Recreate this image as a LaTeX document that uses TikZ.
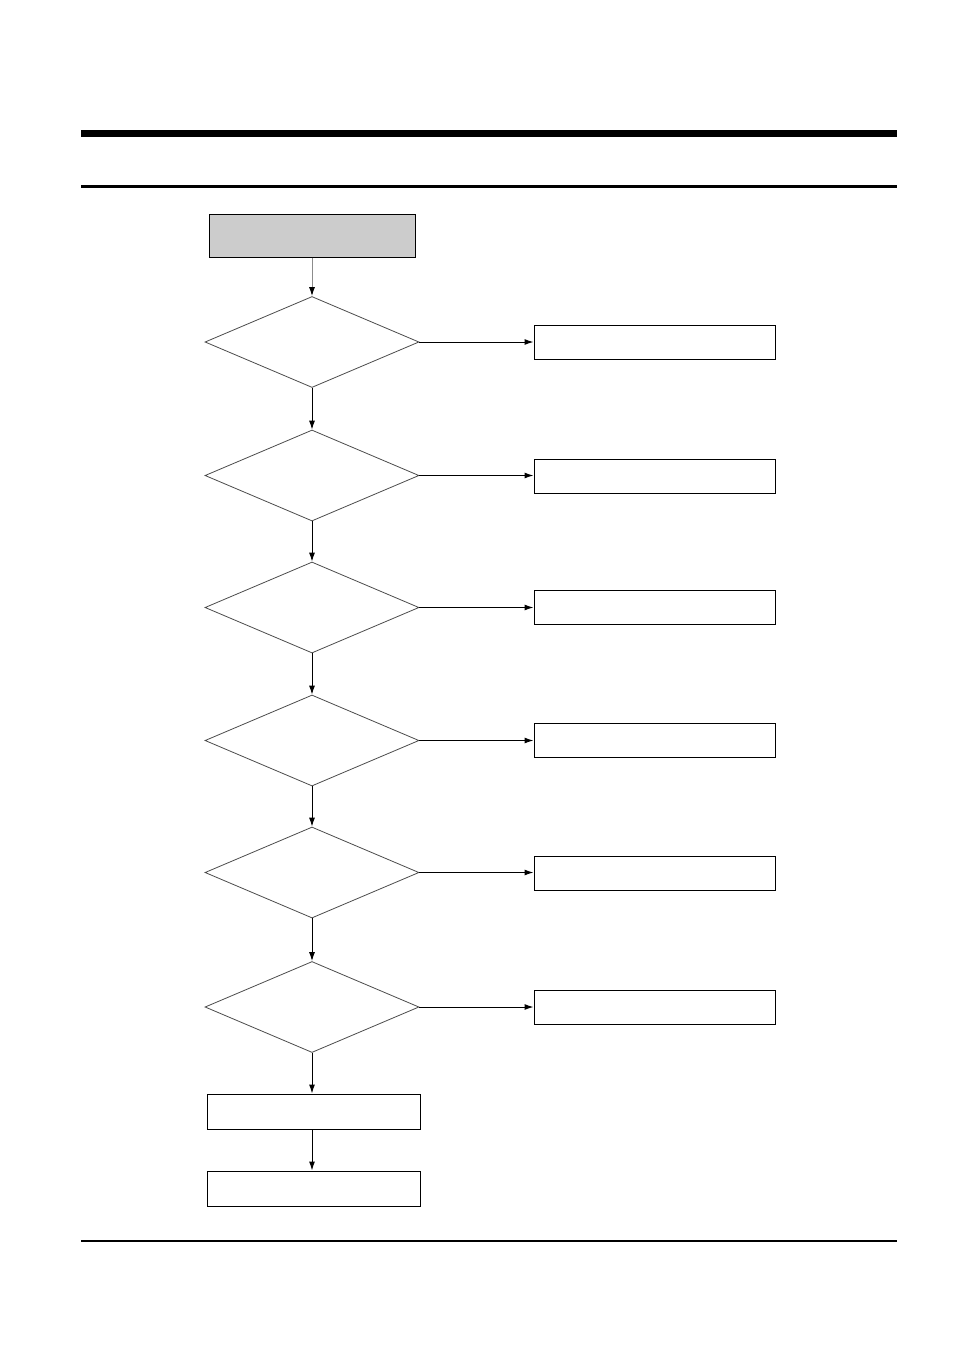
\documentclass[tikz,border=0pt]{standalone}
\usetikzlibrary{shapes.geometric,arrows.meta}
\begin{document}
\begin{tikzpicture}[x=1pt,y=-1pt,
  dec/.style={diamond,draw=black!70,line width=0.8pt,minimum width=214pt,minimum height=91pt,inner sep=0pt,aspect=2.35},
  rbox/.style={draw,line width=1pt,minimum width=241pt,minimum height=34pt,inner sep=0pt},
  bbox/.style={draw,line width=1pt,minimum width=213pt,minimum height=35pt,inner sep=0pt},
  arr/.style={line width=1pt,-{Latex[length=9pt,width=6pt]}}]
\useasboundingbox (0,0) rectangle (954,1350);
\fill[white] (0,0) rectangle (954,1350);
% rules
\fill[black] (81,130) rectangle (897,137);
\fill[black] (81,185) rectangle (897,188);
\fill[black] (81,1240) rectangle (897,1242);
% start box
\node[draw,line width=1pt,fill=black!20,minimum width=206pt,minimum height=43pt,inner sep=0pt] (s) at (312,235.5) {};
% diamonds
\node[dec] (d1) at (312,342) {};
\node[dec] (d2) at (312,475.5) {};
\node[dec] (d3) at (312,607.5) {};
\node[dec] (d4) at (312,740.5) {};
\node[dec] (d5) at (312,872.5) {};
\node[dec] (d6) at (312,1007) {};
% right boxes
\node[rbox] (r1) at (654.5,342) {};
\node[rbox] (r2) at (654.5,476) {};
\node[rbox] (r3) at (654.5,607.5) {};
\node[rbox] (r4) at (654.5,740.5) {};
\node[rbox] (r5) at (654.5,873) {};
\node[rbox] (r6) at (654.5,1007) {};
% bottom boxes
\node[bbox] (b1) at (313.5,1111.5) {};
\node[bbox] (b2) at (313.5,1188.5) {};
% connectors
\draw[arr,draw=black!45,-{Latex[length=9pt,width=6pt,black]}] (s) -- (d1);
\draw[arr] (d1) -- (d2);
\draw[arr] (d2) -- (d3);
\draw[arr] (d3) -- (d4);
\draw[arr] (d4) -- (d5);
\draw[arr] (d5) -- (d6);
\draw[arr] (d6.south) -- (d6.south |- b1.north);
\draw[arr] (b1.south -| d6.south) -- (d6.south |- b2.north);
\foreach \i in {1,...,6}{
  \draw[arr] (d\i.east) -- (d\i.east -| r\i.west);
}
\end{tikzpicture}
\end{document}
